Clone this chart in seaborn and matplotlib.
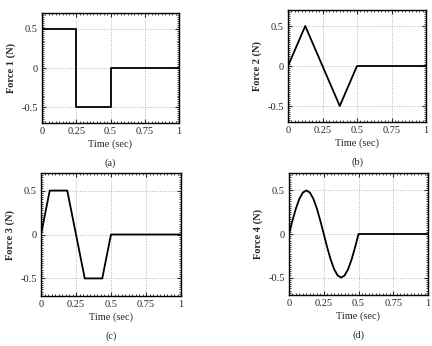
import matplotlib
matplotlib.use("Agg")
import matplotlib.pyplot as plt
import seaborn as sns
from matplotlib.ticker import MultipleLocator
from pandas import DataFrame

# Force 1: square pulse
t1 = [0, 0.25, 0.25, 0.5, 0.5, 1.0]
f1 = [0.5, 0.5, -0.5, -0.5, 0, 0]

# Force 2: triangle
t2 = [0, 0.125, 0.375, 0.5, 1.0]
f2 = [0, 0.5, -0.5, 0, 0]

# Force 3: trapezoid
t3 = [0, 0.0625, 0.1875, 0.3125, 0.4375, 0.5, 1.0]
f3 = [0, 0.5, 0.5, -0.5, -0.5, 0, 0]

# Force 4: one sine period then zero
t4 = [0, 0.025, 0.05, 0.075, 0.1, 0.125, 0.15, 0.175, 0.2, 0.225, 0.25,
      0.275, 0.3, 0.325, 0.35, 0.375, 0.4, 0.425, 0.45, 0.475, 0.5, 1.0]
f4 = [0, 0.155, 0.294, 0.405, 0.476, 0.5, 0.476, 0.405, 0.294, 0.155, 0,
      -0.155, -0.294, -0.405, -0.476, -0.5, -0.476, -0.405, -0.294, -0.155, 0, 0]

ylabels = ["Force 1 (N)", "Force 2 (N)", "Force 3 (N)", "Force 4 (N)"]
captions = ["(a)", "(b)", "(c)", "(d)"]
xticks = [0, 0.25, 0.5, 0.75, 1]
xticklabels = ["0", "0.25", "0.5", "0.75", "1"]
yticks = [-0.5, 0, 0.5]
yticklabels = ["-0.5", "0", "0.5"]

sns.set_style("white")
plt.rcParams["font.family"] = ["Liberation Serif", "DejaVu Serif"]

fig = plt.figure(figsize=(4.32, 3.46), dpi=100)
# axes boxes in pixels: left, bottom(from top), width, height
px_boxes = [(42, 123, 137, 110), (288, 122, 138, 112),
            (41, 296, 140, 123), (289, 295, 139, 122)]
series = [(t1, f1), (t2, f2), (t3, f3), (t4, f4)]

for i, ((t, f), (l, b, w, h)) in enumerate(zip(series, px_boxes)):
    ax = fig.add_axes([l / 432, 1 - b / 346, w / 432, h / 346])
    df = DataFrame({"t": t, "f": f})
    sns.lineplot(data=df, x="t", y="f", ax=ax, color="black", lw=1.3,
                 sort=False, estimator=None)
    ax.set_xlim(0, 1)
    ax.set_ylim(-0.7, 0.7)
    ax.set_xticks(xticks)
    ax.set_xticklabels(xticklabels)
    ax.set_yticks(yticks)
    ax.set_yticklabels(yticklabels)
    ax.xaxis.set_minor_locator(MultipleLocator(0.025))
    ax.yaxis.set_minor_locator(MultipleLocator(0.025))
    ax.tick_params(which="both", direction="in", top=True, right=True,
                   bottom=True, left=True, labelsize=7.5, pad=3)
    ax.tick_params(which="major", length=3, width=0.8)
    ax.tick_params(which="minor", length=1.5, width=0.6)
    ax.grid(True, which="major", color="0.7", ls=":", lw=0.7)
    for sp in ax.spines.values():
        sp.set_color("black")
        sp.set_linewidth(1.0)
    ax.set_xlabel("Time (sec)", fontsize=7.5, labelpad=2)
    ax.set_ylabel(ylabels[i], fontsize=7.5, fontweight="bold", labelpad=4)
    ax.text(0.5, -40 / h, captions[i], transform=ax.transAxes,
            ha="center", va="center", fontsize=7.5)

fig.savefig("out.png", dpi=100)
